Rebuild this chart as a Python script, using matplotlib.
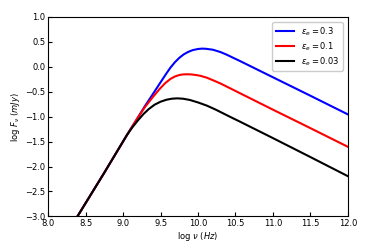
import numpy as np
import matplotlib
matplotlib.use("Agg")
import matplotlib.pyplot as plt

# points (log nu [Hz], log F_nu [mJy])
nu_03 = [8.30, 8.39, 8.75, 9.05, 9.20, 9.29, 9.40, 9.50, 9.57, 9.63, 9.69, 9.75, 9.81, 9.87,
         9.93, 10.00, 10.05, 10.10, 10.20, 10.30, 10.38, 10.47, 10.56, 11.00, 11.50, 12.00]
f_03 = [-3.22, -3.00, -2.12, -1.37, -1.01, -0.79, -0.54, -0.31, -0.15, -0.02, 0.09, 0.18, 0.25, 0.30,
        0.335, 0.357, 0.364, 0.362, 0.342, 0.295, 0.245, 0.18, 0.116, -0.21, -0.58, -0.954]

nu_01 = [8.30, 8.39, 8.75, 9.05, 9.20, 9.29, 9.40, 9.49, 9.56, 9.63, 9.69, 9.75, 9.80, 9.85,
         9.90, 9.96, 10.03, 10.12, 10.20, 10.30, 10.40, 10.50, 10.60, 11.00, 11.50, 12.00]
f_01 = [-3.22, -3.00, -2.12, -1.37, -1.01, -0.81, -0.60, -0.44, -0.33, -0.245, -0.195, -0.165, -0.153, -0.150,
        -0.152, -0.162, -0.18, -0.22, -0.27, -0.335, -0.41, -0.485, -0.56, -0.86, -1.23, -1.604]

nu_003 = [8.30, 8.39, 8.75, 9.05, 9.12, 9.20, 9.27, 9.34, 9.42, 9.50, 9.58, 9.65, 9.72, 9.80,
          9.89, 10.00, 10.12, 10.23, 10.34, 10.43, 10.56, 11.00, 11.50, 12.00]
f_003 = [-3.22, -3.00, -2.12, -1.37, -1.22, -1.07, -0.95, -0.85, -0.76, -0.70, -0.66, -0.64, -0.633, -0.64,
         -0.665, -0.715, -0.78, -0.855, -0.937, -1.005, -1.10, -1.43, -1.81, -2.193]

labels = [r'$\epsilon_e = 0.3$', r'$\epsilon_e = 0.1$', r'$\epsilon_e = 0.03$']

fig = plt.figure(figsize=(3.74, 2.49), dpi=100)
ax = fig.add_axes([0.129, 0.131, 0.801, 0.801])

ax.plot(nu_03, f_03, color='blue', lw=1.5, label=labels[0])
ax.plot(nu_01, f_01, color='red', lw=1.5, label=labels[1])
ax.plot(nu_003, f_003, color='black', lw=1.5, label=labels[2])

ax.set_xlim(8.0, 12.0)
ax.set_ylim(-3.0, 1.0)
ax.set_xticks(np.arange(8.0, 12.01, 0.5))
ax.set_yticks(np.arange(-3.0, 1.01, 0.5))
ax.tick_params(direction='in', labelsize=6, length=3, width=0.8, pad=2)
ax.set_xlabel(r'log $\nu$ $(Hz)$', fontsize=6, labelpad=1)
ax.set_ylabel(r'log $F_\nu$ $(mJy)$', fontsize=6, labelpad=2)

ax.legend(loc='upper right', fontsize=6, handlelength=2.2, labelspacing=0.3,
          borderaxespad=0.6, framealpha=1)

fig.savefig('out.png', dpi=100)
